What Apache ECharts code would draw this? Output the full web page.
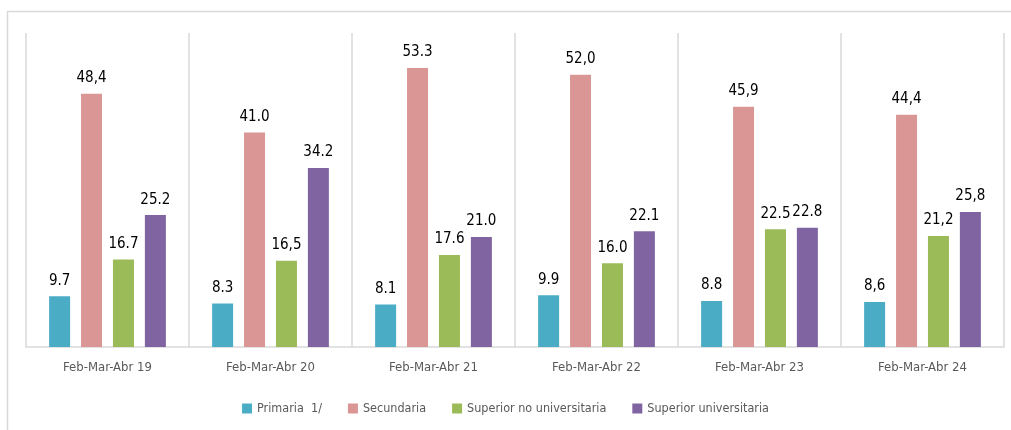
<!DOCTYPE html>
<html>
<head>
<meta charset="utf-8">
<script src="https://cdn.jsdelivr.net/npm/echarts@6/dist/echarts.min.js"></script>
<style>
  html, body { margin: 0; padding: 0; background: #fff; }
  #chart { width: 1011px; height: 430px; }
</style>
</head>
<body>
<div id="chart"></div>
<script>
// categorias (trimestres)
const categories = ['Feb-Mar-Abr 19', 'Feb-Mar-Abr 20', 'Feb-Mar-Abr 21', 'Feb-Mar-Abr 22', 'Feb-Mar-Abr 23', 'Feb-Mar-Abr 24'];
const seriesNames = ['Primaria  1/', 'Secundaria', 'Superior no universitaria', 'Superior universitaria'];

// valores por nivel educativo
const primaria = [9.7, 8.3, 8.1, 9.9, 8.8, 8.6];
const secundaria = [48.4, 41.0, 53.3, 52.0, 45.9, 44.4];
const superiorNoUniv = [16.7, 16.5, 17.6, 16.0, 22.5, 21.2];
const superiorUniv = [25.2, 34.2, 21.0, 22.1, 22.8, 25.8];

// etiquetas tal como aparecen (mezcla de coma y punto)
const primariaLabels = ['9.7', '8.3', '8.1', '9.9', '8.8', '8,6'];
const secundariaLabels = ['48,4', '41.0', '53.3', '52,0', '45,9', '44,4'];
const superiorNoUnivLabels = ['16.7', '16,5', '17.6', '16.0', '22.5', '21,2'];
const superiorUnivLabels = ['25.2', '34.2', '21.0', '22.1', '22.8', '25,8'];

const colors = ['#4BACC6', '#D99694', '#9BBB59', '#8064A2'];
const font = '"DejaVu Sans Condensed", "Liberation Sans Narrow", sans-serif';

const chart = echarts.init(document.getElementById('chart'));

function makeSeries(name, data, labels) {
  return {
    name: name,
    type: 'bar',
    data: data,
    barWidth: 21,
    barGap: '52%',
    label: {
      show: true,
      position: 'top',
      distance: 8,
      fontFamily: font,
      fontSize: 15,
      color: '#000',
      formatter: p => labels[p.dataIndex]
    }
  };
}

const option = {
  color: colors,
  animation: false,
  textStyle: { fontFamily: font },
  graphic: [{
    type: 'rect',
    shape: { x: 7.5, y: 11.5, width: 1100, height: 500 },
    style: { fill: 'none', stroke: '#d9d9d9', lineWidth: 1.5 },
    silent: true
  }],
  grid: { left: 26, right: 7, top: 33, bottom: 83, containLabel: false },
  legend: {
    data: seriesNames,
    bottom: 10,
    left: 'center',
    icon: 'rect',
    itemWidth: 10,
    itemHeight: 10,
    itemGap: 26,
    textStyle: { fontFamily: font, fontSize: 12.5, color: '#595959' }
  },
  xAxis: {
    type: 'category',
    data: categories,
    axisLine: { lineStyle: { color: '#d9d9d9', width: 1.5 } },
    axisTick: { show: false },
    splitLine: { show: true, interval: 0, lineStyle: { color: '#d9d9d9', width: 1.5 } },
    axisLabel: { margin: 14, fontFamily: font, fontSize: 13, color: '#595959' }
  },
  yAxis: {
    type: 'value',
    min: 0,
    max: 60,
    show: false,
    splitLine: { show: false }
  },
  series: [
    makeSeries(seriesNames[0], primaria, primariaLabels),
    makeSeries(seriesNames[1], secundaria, secundariaLabels),
    makeSeries(seriesNames[2], superiorNoUniv, superiorNoUnivLabels),
    makeSeries(seriesNames[3], superiorUniv, superiorUnivLabels)
  ]
};

chart.setOption(option);
</script>
</body>
</html>
